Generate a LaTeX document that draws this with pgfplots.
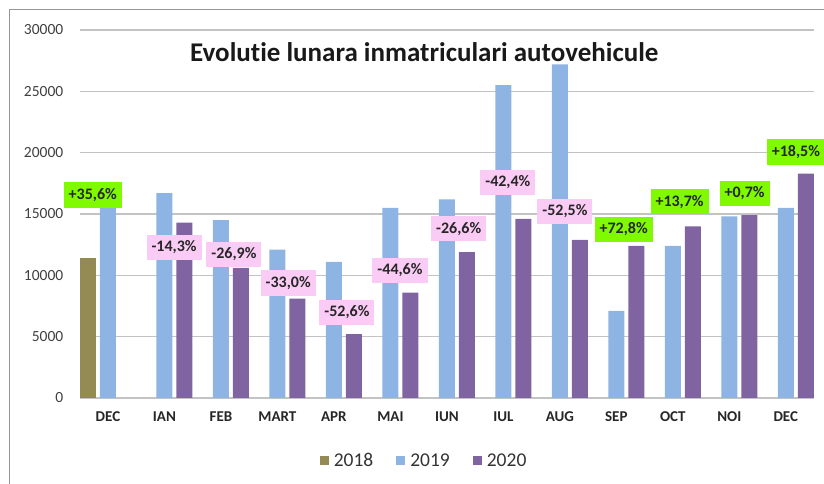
\documentclass[border=0pt]{standalone}
\usepackage{pgfplots}
\pgfplotsset{compat=1.18}
\usepackage{fontspec}
\setmainfont[Ligatures=NoCommon]{Carlito}
\definecolor{c18}{RGB}{148,138,84}
\definecolor{c19}{RGB}{142,180,227}
\definecolor{c20}{RGB}{128,100,162}
\definecolor{pinkbox}{RGB}{250,204,245}
\definecolor{greenbox}{RGB}{128,250,0}
\definecolor{gridc}{RGB}{195,195,195}
\definecolor{framec}{RGB}{150,150,150}
\begin{document}
\begin{tikzpicture}[x=1pt,y=1pt]
\useasboundingbox (0,0) rectangle (824,484);
\draw[framec, line width=1.2pt] (9.5,0) -- (9.5,474.5) -- (830,474.5);
\begin{axis}[
  at={(79.75pt,86pt)}, anchor=south west,
  scale only axis, width=734.25pt, height=368pt,
  xmin=-0.5, xmax=12.5, ymin=0, ymax=30000,
  ytick={0,5000,...,30000},
  scaled y ticks=false,
  xtick={0,...,12},
  xticklabels={DEC,IAN,FEB,MART,APR,MAI,IUN,IUL,AUG,SEP,OCT,NOI,DEC},
  xticklabel style={font=\fontsize{15}{15}\selectfont\bfseries, text=black!85},
  yticklabel style={font=\fontsize{15.5}{15}\selectfont, text=black!75},
  /pgf/number format/assume math mode=true,
  /pgf/number format/1000 sep={},
  axis x line*=bottom, axis y line*=left,
  x axis line style={gridc, line width=1.5pt, -},
  y axis line style={draw=none},
  ymajorgrids, grid style={gridc, line width=1.5pt},
  major tick length=0pt,
  xtick style={draw=none}, ytick style={draw=none},
  xticklabel shift=10pt, yticklabel shift=13pt,
  ybar, bar width=0.283, bar shift=0pt,
  legend style={at={(0.471,-0.171)}, anchor=center, draw=none, fill=none,
    legend columns=3, font=\fontsize{19.5}{19}\selectfont, text=black!80,
    /tikz/every even column/.append style={column sep=18pt},
    nodes={inner xsep=5pt}},
  legend image code/.code={\fill[#1] (0pt,-4.5pt) rectangle (9pt,4.5pt);},
  clip=false,
]
\addplot[fill=c18, draw=none] coordinates {(-0.354,11400)};
\addplot[fill=c19, draw=none] coordinates {
(0,15500) (1,16700) (2,14500) (3,12100) (4,11100) (5,15500) (6,16200)
(7,25500) (8,27200) (9,7100) (10,12400) (11,14800) (12,15500)};
\addplot[fill=c20, draw=none] coordinates {
(1.354,14300) (2.354,10600) (3.354,8100) (4.354,5200) (5.354,8600) (6.354,11900)
(7.354,14600) (8.354,12900) (9.354,12400) (10.354,14000) (11.354,14900) (12.354,18300)};
\legend{2018,2019,2020}
\node[font=\fontsize{27}{27}\selectfont\bfseries, text=black!90] at (axis cs:5.6,28200) {Evolutie lunara inmatriculari autovehicule};
\tikzset{pl/.style={fill=pinkbox, font=\fontsize{16}{16}\selectfont\bfseries, text=black!85, inner xsep=5pt, inner ysep=6pt},
         gl/.style={fill=greenbox, font=\fontsize{16}{16}\selectfont\bfseries, text=black!85, inner xsep=5pt, inner ysep=6pt}}
\node[gl] at (axis cs:-0.27,16550) {+35,6\%};
\node[pl] at (axis cs:1.17,12300) {-14,3\%};
\node[pl] at (axis cs:2.23,11700) {-26,9\%};
\node[pl] at (axis cs:3.19,9370) {-33,0\%};
\node[pl] at (axis cs:4.23,7000) {-52,6\%};
\node[pl] at (axis cs:5.17,10400) {-44,6\%};
\node[pl] at (axis cs:6.21,13800) {-26,6\%};
\node[pl] at (axis cs:7.08,17600) {-42,4\%};
\node[pl] at (axis cs:8.09,15200) {-52,5\%};
\node[gl] at (axis cs:9.13,13750) {+72,8\%};
\node[gl] at (axis cs:10.12,16000) {+13,7\%};
\node[gl] at (axis cs:11.27,16700) {+0,7\%};
\node[gl] at (axis cs:12.18,20050) {+18,5\%};
\end{axis}
\end{tikzpicture}
\end{document}
